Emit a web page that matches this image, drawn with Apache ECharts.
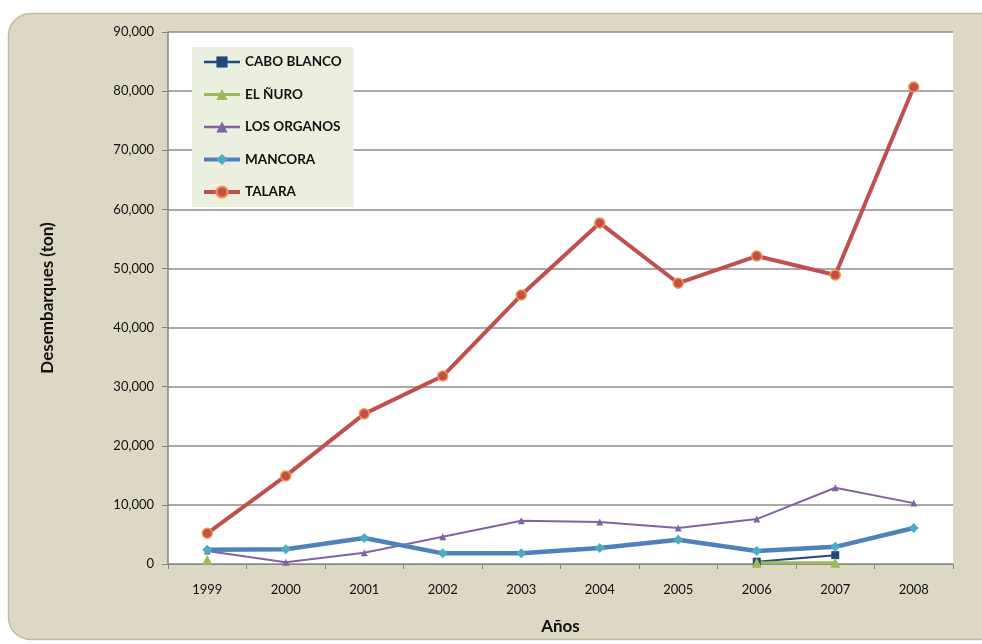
<!DOCTYPE html>
<html>
<head>
<meta charset="utf-8">
<script src="https://cdn.jsdelivr.net/npm/echarts@6/dist/echarts.min.js"></script>
<style>
  html, body { margin: 0; padding: 0; background: #ffffff; }
  #chart { width: 982px; height: 644px; }
</style>
</head>
<body>
<div id="chart"></div>
<script>
// Landings per port, 1999-2008 (tonnes)
const years = ['1999', '2000', '2001', '2002', '2003', '2004', '2005', '2006', '2007', '2008'];
const caboBlanco = [null, null, null, null, null, null, null, 400, 1500, null];
const elNuro = [700, null, null, null, null, null, null, 200, 200, null];
const losOrganos = [2200, 300, 1900, 4600, 7300, 7100, 6100, 7600, 12900, 10300];
const mancora = [2400, 2500, 4400, 1800, 1800, 2700, 4100, 2200, 2900, 6100];
const talara = [5200, 14900, 25400, 31800, 45500, 57700, 47500, 52100, 48900, 80700];
const ports = ['CABO BLANCO', 'EL ÑURO', 'LOS ORGANOS', 'MANCORA', 'TALARA'];

const font = 'Lato, "Open Sans", sans-serif';
const chart = echarts.init(document.getElementById('chart'), null, { renderer: 'canvas' });

function line(name, data, color, width, symbol, size, border) {
  return {
    name: name,
    type: 'line',
    data: data,
    symbol: symbol,
    symbolSize: size,
    connectNulls: false,
    lineStyle: { color: color, width: width },
    itemStyle: { color: color, borderColor: border || color, borderWidth: border ? 1.5 : 0 },
    emphasis: { disabled: true },
    z: 3
  };
}

// legend swatch line widths, per port
const legendWidths = [2.5, 3, 2.5, 4, 4];

chart.setOption({
  animation: false,
  backgroundColor: '#ffffff',
  graphic: [{
    type: 'rect',
    z: -10,
    silent: true,
    shape: { x: 8.5, y: 13.5, width: 1010, height: 626, r: 22 },
    style: { fill: '#ddd8c3', stroke: '#c4bc9a', lineWidth: 1.5 }
  }],
  grid: {
    left: 168, top: 32, width: 785, height: 532,
    outerBoundsMode: 'none',
    containLabel: false,
    show: true, backgroundColor: '#ffffff', borderWidth: 0
  },
  legend: {
    orient: 'vertical',
    left: 192, top: 47,
    backgroundColor: '#ebefe0',
    padding: [8, 12, 8, 10],
    itemGap: 18.5,
    itemWidth: 36, itemHeight: 14,
    textStyle: { fontFamily: font, fontWeight: 'bold', fontSize: 13.5, color: '#111111' },
    data: ports.map((p, i) => ({ name: p, lineStyle: { width: legendWidths[i] } }))
  },
  xAxis: {
    type: 'category',
    data: years,
    boundaryGap: true,
    name: 'Años',
    nameLocation: 'middle',
    nameGap: 54,
    nameTextStyle: { fontFamily: font, fontWeight: 'bold', fontSize: 17, color: '#111111' },
    axisLine: { lineStyle: { color: '#868686', width: 1 } },
    axisTick: { show: true, alignWithLabel: false, length: 5, lineStyle: { color: '#868686' } },
    axisLabel: { fontFamily: font, fontSize: 13, color: '#111111', margin: 19 },
    splitLine: { show: false }
  },
  yAxis: {
    type: 'value',
    min: 0, max: 90000, interval: 10000,
    name: 'Desembarques (ton)',
    nameLocation: 'middle',
    nameGap: 112,
    nameRotate: 90,
    nameTextStyle: { fontFamily: font, fontWeight: 'bold', fontSize: 17, color: '#111111' },
    axisLine: { show: true, lineStyle: { color: '#868686', width: 1.5 } },
    axisTick: { show: true, length: 6, lineStyle: { color: '#868686' } },
    axisLabel: {
      fontFamily: font, fontSize: 13, color: '#111111', margin: 14,
      formatter: v => v.toLocaleString('en-US')
    },
    splitLine: { show: true, lineStyle: { color: '#8c8c8c', width: 1.5 } }
  },
  series: [
    line(ports[0], caboBlanco, '#1f497d', 2, 'rect', 8),
    line(ports[1], elNuro, '#9bbb59', 3, 'triangle', 10),
    line(ports[2], losOrganos, '#8064a2', 2, 'triangle', 7),
    Object.assign(line(ports[3], mancora, '#4f81bd', 4.5, 'diamond', 10), {
      itemStyle: { color: '#4bacc6', borderColor: '#4bacc6', borderWidth: 0 }
    }),
    line(ports[4], talara, '#c0504d', 4, 'circle', 10, '#f79646')
  ]
});
</script>
</body>
</html>
